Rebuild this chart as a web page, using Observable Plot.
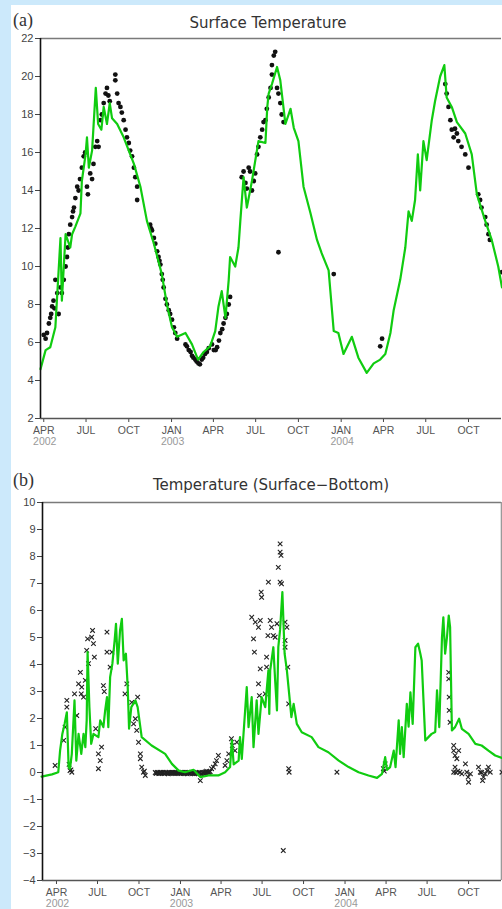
<!DOCTYPE html>
<html><head><meta charset="utf-8">
<script src="https://cdn.jsdelivr.net/npm/d3@7"></script>
<script src="https://cdn.jsdelivr.net/npm/@observablehq/plot@0.6"></script>
<style>
html,body{margin:0;padding:0;}
body{background:#cce9fb;width:502px;height:909px;position:relative;overflow:hidden;}
#panel{position:absolute;left:11px;top:5px;width:491px;height:904px;background:#fff;}
.lbl{position:absolute;left:2px;font-family:"Liberation Serif","DejaVu Serif",serif;font-size:18px;line-height:20px;color:#333;}
.title{position:absolute;width:400px;text-align:center;font-family:"DejaVu Sans",sans-serif;font-size:15px;line-height:20px;color:#333;}
.chart{position:absolute;left:0;}
</style></head>
<body>
<div id="panel">
  <div class="lbl" style="top:5px">(a)</div>
  <div class="title" style="left:57px;top:8px">Surface Temperature</div>
  <div id="a" class="chart" style="top:25px"></div>
  <div class="lbl" style="top:465px">(b)</div>
  <div class="title" style="left:60px;top:470px">Temperature (Surface−Bottom)</div>
  <div id="b" class="chart" style="top:489px"></div>
</div>
<script>
// day offsets are counted from 1 April 2002
const baseDate = "2002-04-01";

// x-axis ticks (shared)
const xTickDates = ["2002-04-01","2002-07-01","2002-10-01","2003-01-01","2003-04-01","2003-07-01","2003-10-01","2004-01-01","2004-04-01","2004-07-01","2004-10-01"];
const xTickMonths = ["APR","JUL","OCT","JAN","APR","JUL","OCT","JAN","APR","JUL","OCT"];
const xTickYears = ["2002","","","2003","","","","2004","","",""];

// Panel (a): surface temperature
const aYTicks = [2,4,6,8,10,12,14,16,18,20,22];
const aXDomain = ["2002-03-25","2004-12-11"];
const aModelDays = [-7,4,14,25,36,39,47,57,61,68,79,82,90,93,97,104,112,117,124,129,136,142,147,158,172,194,208,222,237,254,265,276,287,305,319,332,344,358,369,376,383,391,398,401,412,419,423,430,437,448,462,477,481,484,491,502,509,520,531,538,548,559,574,588,598,613,624,634,645,663,677,695,710,724,735,746,753,767,778,785,792,799,805,810,817,824,835,842,853,862,867,878,889,907,921,932,950,964,978,986];
const aModelTemps = [4.6,5.6,5.75,6.8,11.5,8.2,11.7,11.0,11.7,12.1,12.8,14.5,15.9,16.8,15.2,16.1,19.4,17.5,17.2,18.4,17.5,18.6,17.8,17.5,16.8,15.4,14.2,12.4,11.2,9.6,8.0,6.8,6.3,6.5,5.9,5.1,5.5,5.8,6.6,7.9,8.7,7.3,9.3,10.5,10.0,11.0,12.4,14.7,13.1,14.5,16.6,16.5,18.4,19.1,19.6,20.5,19.8,17.5,18.3,17.3,16.6,14.2,12.8,11.4,10.7,9.8,6.6,6.5,5.4,6.3,5.2,4.4,4.9,5.1,5.4,6.5,7.7,9.3,11.0,12.9,12.4,13.5,15.9,14.0,16.6,15.6,17.7,18.7,20.0,20.6,18.9,18.4,17.6,17.0,15.9,13.8,12.4,11.4,10.0,8.9];
const aObsDays = [0,4,7,11,14,16,18,21,23,25,29,32,36,39,43,47,50,52,54,57,61,63,65,68,72,75,78,82,86,89,93,95,100,104,107,111,115,118,122,125,129,133,136,139,142,154,154,158,161,165,168,172,176,179,183,186,190,194,197,201,201,229,231,233,237,240,244,247,249,251,254,256,258,262,265,269,272,276,280,283,287,305,308,312,316,319,322,326,329,333,336,340,343,347,351,355,362,366,370,373,377,380,384,387,391,394,398,401,426,430,434,437,441,444,448,452,455,459,462,466,470,473,477,480,484,488,491,491,495,498,502,505,509,512,516,505,624,724,728,864,867,871,875,878,882,885,889,892,899,907,914,935,939,942,950,953,957,960,986];
const aObsTemps = [6.4,6.2,6.5,7.0,7.3,7.5,7.9,8.2,7.8,9.3,8.6,7.5,8.9,8.6,9.3,10.0,10.5,11.0,11.7,12.2,12.6,12.9,13.1,13.6,14.2,14.0,14.6,15.2,15.8,16.0,14.2,13.8,14.9,14.6,15.4,16.3,16.6,16.3,17.7,18.0,18.6,19.1,19.4,19.0,18.7,20.1,19.8,19.1,18.6,18.4,18.1,17.7,17.2,16.8,16.5,16.1,15.8,15.2,14.7,14.2,13.5,12.2,12.0,11.9,11.5,11.2,10.8,10.5,10.3,10.1,9.6,9.3,8.9,8.3,8.0,7.7,7.5,7.2,6.8,6.5,6.2,5.9,5.8,5.6,5.5,5.3,5.2,5.1,5.0,4.9,4.85,5.1,5.2,5.4,5.5,5.7,5.9,5.6,5.6,5.75,6.1,6.5,6.7,7.0,7.3,7.5,8.0,8.4,14.7,15.0,14.4,14.1,15.2,15.0,14.0,14.5,14.9,15.9,16.3,16.8,17.2,17.6,17.7,18.3,18.9,19.4,20.1,20.6,21.1,21.3,19.4,19.1,18.6,18.0,17.6,10.75,9.6,5.8,6.2,19.6,19.1,18.4,17.7,17.2,16.8,17.25,17.0,16.6,16.3,15.9,15.2,13.8,13.5,13.1,12.6,12.2,11.7,11.4,9.7];

// Panel (b): surface minus bottom temperature
const bYTicks = [-4,-3,-2,-1,0,1,2,3,4,5,6,7,8,9,10];
const bXDomain = ["2002-03-01","2004-12-13"];
const bModelDays = [-33,-10,4,8,13,18,23,27,30,34,40,44,49,55,60,64,67,69,73,77,82,93,97,104,108,112,115,119,124,129,132,136,141,145,149,154,158,161,166,175,180,189,211,241,256,271,285,304,319,337,359,374,385,389,393,404,407,411,422,426,433,437,444,448,455,463,470,472,474,481,485,489,492,496,501,506,511,516,521,526,533,544,566,581,603,626,648,670,692,711,722,729,733,740,748,752,759,762,766,770,777,781,785,790,796,802,807,810,818,825,832,840,844,849,855,858,862,866,870,873,877,884,893,899,914,929,943,958,973,988];
const bModelDiffs = [-0.15,-0.07,0.01,0.81,1.43,1.8,2.23,0.2,0.14,0.69,2.67,0.44,1.43,0.69,1.43,0.94,1.93,4.46,2.42,1.06,1.43,1.31,1.93,1.68,2.3,2.79,1.68,3.53,4.03,4.89,5.51,4.03,5.26,5.69,4.15,4.4,3.16,1.62,2.42,2.67,2.42,1.31,1.0,0.69,0.32,0.07,0.01,0.1,-0.17,-0.11,-0.11,0.01,0.2,1.19,0.3,0.44,1.31,0.5,3.16,1.68,2.79,0.94,2.67,1.43,2.79,2.42,3.78,2.17,3.78,4.64,3.41,2.3,4.64,5.3,6.68,4.4,3.78,2.92,2.05,2.54,1.8,1.49,1.31,0.94,0.75,0.44,0.2,0.01,-0.11,-0.2,-0.05,0.57,0.1,0.2,0.81,0.2,1.93,0.69,1.68,0.57,2.54,1.7,2.97,1.8,4.64,4.77,4.4,4.15,1.19,1.31,1.43,1.5,3.04,1.68,5.01,5.75,4.4,5.0,5.81,5.38,1.56,1.68,1.99,1.62,1.43,1.06,1.0,0.81,0.63,0.54];
const bObsDays = [-3,16,19,23,23,28,30,32,34,40,45,49,53,55,56,60,64,67,69,71,78,80,82,84,87,93,93,97,100,104,106,112,112,119,123,152,156,167,171,175,178,180,182,186,186,189,193,195,197,
  219,221,222,224,225,227,228,230,231,233,234,236,237,239,240,242,243,245,246,248,249,251,252,254,255,257,258,260,261,263,264,266,267,269,270,272,273,275,276,278,279,281,282,284,285,287,288,290,291,293,294,296,297,299,300,302,303,305,306,308,309,311,312,314,315,317,319,320,322,324,325,327,328,330,331,333,334,336,338,339,341,
  344,348,352,355,359,374,378,382,388,390,396,400,
  433,437,439,441,448,448,450,452,452,454,455,463,466,466,469,470,474,477,481,485,489,492,496,496,498,496,499,503,507,507,507,511,513,515,515,516,622,725,727,729,
  870,870,871,871,873,881,881,884,888,892,884,881,886,890,895,899,907,910,913,914,918,936,940,943,945,947,951,955,958,962,988];
const bObsDiffs = [0.26,1.19,1.68,2.67,2.42,0.3,0.07,0.1,0.01,2.91,2.11,3.28,3.71,2.91,3.16,2.79,3.41,4.52,4.95,4.03,5.01,5.26,4.77,4.27,1.62,0.69,0.14,0.44,0.94,3.22,3.0,5.2,4.46,3.9,4.46,2.91,3.28,2.6,1.8,1.99,1.56,2.79,1.12,0.69,0.51,0.2,0.01,0.05,-0.11,
  0.0,-0.03,-0.02,0.0,0.0,-0.04,-0.03,0.0,0.0,-0.02,-0.02,0.0,0.0,-0.03,-0.04,0.0,0.0,-0.02,-0.02,-0.05,0.0,0.0,-0.03,-0.02,0.0,0.0,-0.03,-0.02,0.0,-0.04,0.0,0.0,-0.02,-0.03,0.0,-0.02,-0.02,0.0,-0.04,0.0,0.0,-0.03,-0.02,0.0,-0.04,0.0,-0.02,-0.05,0.0,-0.02,0.0,-0.03,-0.02,0.0,0.0,-0.04,-0.02,0.0,-0.05,-0.02,0.0,-0.03,0.0,-0.02,-0.04,0.0,-0.3,-0.05,-0.05,0.0,-0.02,-0.03,0.0,0.02,-0.02,0.05,0.0,0.02,0.0,0.02,0.03,
  0.14,0.2,0.32,0.44,0.63,0.26,0.44,0.69,1.25,1.0,0.81,1.12,
  5.75,4.95,4.46,5.57,5.38,3.28,2.85,5.63,3.84,6.68,6.49,2.91,3.9,4.27,5.07,7.05,5.63,5.38,5.07,5.01,5.51,7.6,8.16,8.47,8.04,7.05,6.99,-2.89,5.57,4.89,4.64,5.38,3.9,2.54,0.14,0.01,0.01,0.14,0.05,0.32,
  3.71,3.47,2.79,2.3,1.86,1.0,0.81,0.63,0.51,0.81,0.2,0.01,0.0,0.05,0.01,-0.05,0.32,0.01,-0.17,-0.36,-0.05,0.2,0.01,0.0,-0.3,-0.17,-0.05,0.07,0.2,0.01,0.01];

const base = new Date(baseDate + "T00:00:00Z");
const toDate = d => d3.utcDay.offset(base, d);
const parse = s => new Date(s + "T00:00:00Z");
const zipRows = (days, vals) => days.map((d, i) => ({date: toDate(d), value: vals[i]}));

const GREEN = "#10cc10";
const tickDates = xTickDates.map(parse);

function panel({yTicks, xDomain, line, obs, obsMark, width, height, mt, mb, ml, mr, rightBorder}) {
  const yMin = yTicks[0], yMax = yTicks[yTicks.length - 1];
  const xd = xDomain.map(parse);
  return Plot.plot({
    width, height,
    marginTop: mt, marginBottom: mb, marginLeft: ml, marginRight: mr,
    style: {background: "transparent", fontFamily: "'Liberation Sans', Arial, sans-serif", fontSize: "10.5px", overflow: "visible"},
    x: {type: "utc", domain: xd},
    y: {domain: [yMin, yMax]},
    marks: [
      Plot.ruleY([yMax], {stroke: "#7a7a7a", strokeWidth: 1.6}),
      rightBorder ? Plot.ruleX([xd[1]], {stroke: "#9a9a9a", strokeWidth: 1.6}) : null,
      obsMark(obs),
      Plot.line(line, {x: "date", y: "value", stroke: GREEN, strokeWidth: 2.2}),
      Plot.axisY({ticks: yTicks, tickSize: 5, tickPadding: 2, tickFormat: d => String(d).replace("-", "\u2212"), color: "#444", fontSize: 11, label: null}),
      Plot.axisX({ticks: tickDates, tickSize: 4, tickFormat: () => "", color: "#444", label: null}),
      Plot.ruleY([yMin], {stroke: "#555", strokeWidth: 1.6}),
      Plot.ruleX([xd[0]], {stroke: "#111", strokeWidth: 1.6}),
      Plot.text(tickDates, {x: d => d, y: () => yMin, text: (d, i) => xTickMonths[i], dy: 12, fill: "#555", fontSize: 10.5}),
      Plot.text(tickDates, {x: d => d, y: () => yMin, text: (d, i) => xTickYears[i], dy: 23, dx: 1, fill: "#999", fontSize: 10.5})
    ]
  });
}

document.getElementById("a").append(panel({
  yTicks: aYTicks, xDomain: aXDomain,
  line: zipRows(aModelDays, aModelTemps),
  obs: zipRows(aObsDays, aObsTemps),
  obsMark: data => Plot.dot(data, {x: "date", y: "value", r: 2.4, fill: "#111", stroke: "none"}),
  width: 491, height: 420, mt: 8, mb: 32, ml: 29, mr: 1, rightBorder: false
}));

document.getElementById("b").append(panel({
  yTicks: bYTicks, xDomain: bXDomain,
  line: zipRows(bModelDays, bModelDiffs),
  obs: zipRows(bObsDays, bObsDiffs),
  obsMark: data => Plot.dot(data, {x: "date", y: "value", symbol: "times", r: 2.2, stroke: "#222", strokeWidth: 1.1, fill: "none"}),
  width: 491, height: 415, mt: 8, mb: 29, ml: 31, mr: 1, rightBorder: true
}));
</script>
</body></html>
